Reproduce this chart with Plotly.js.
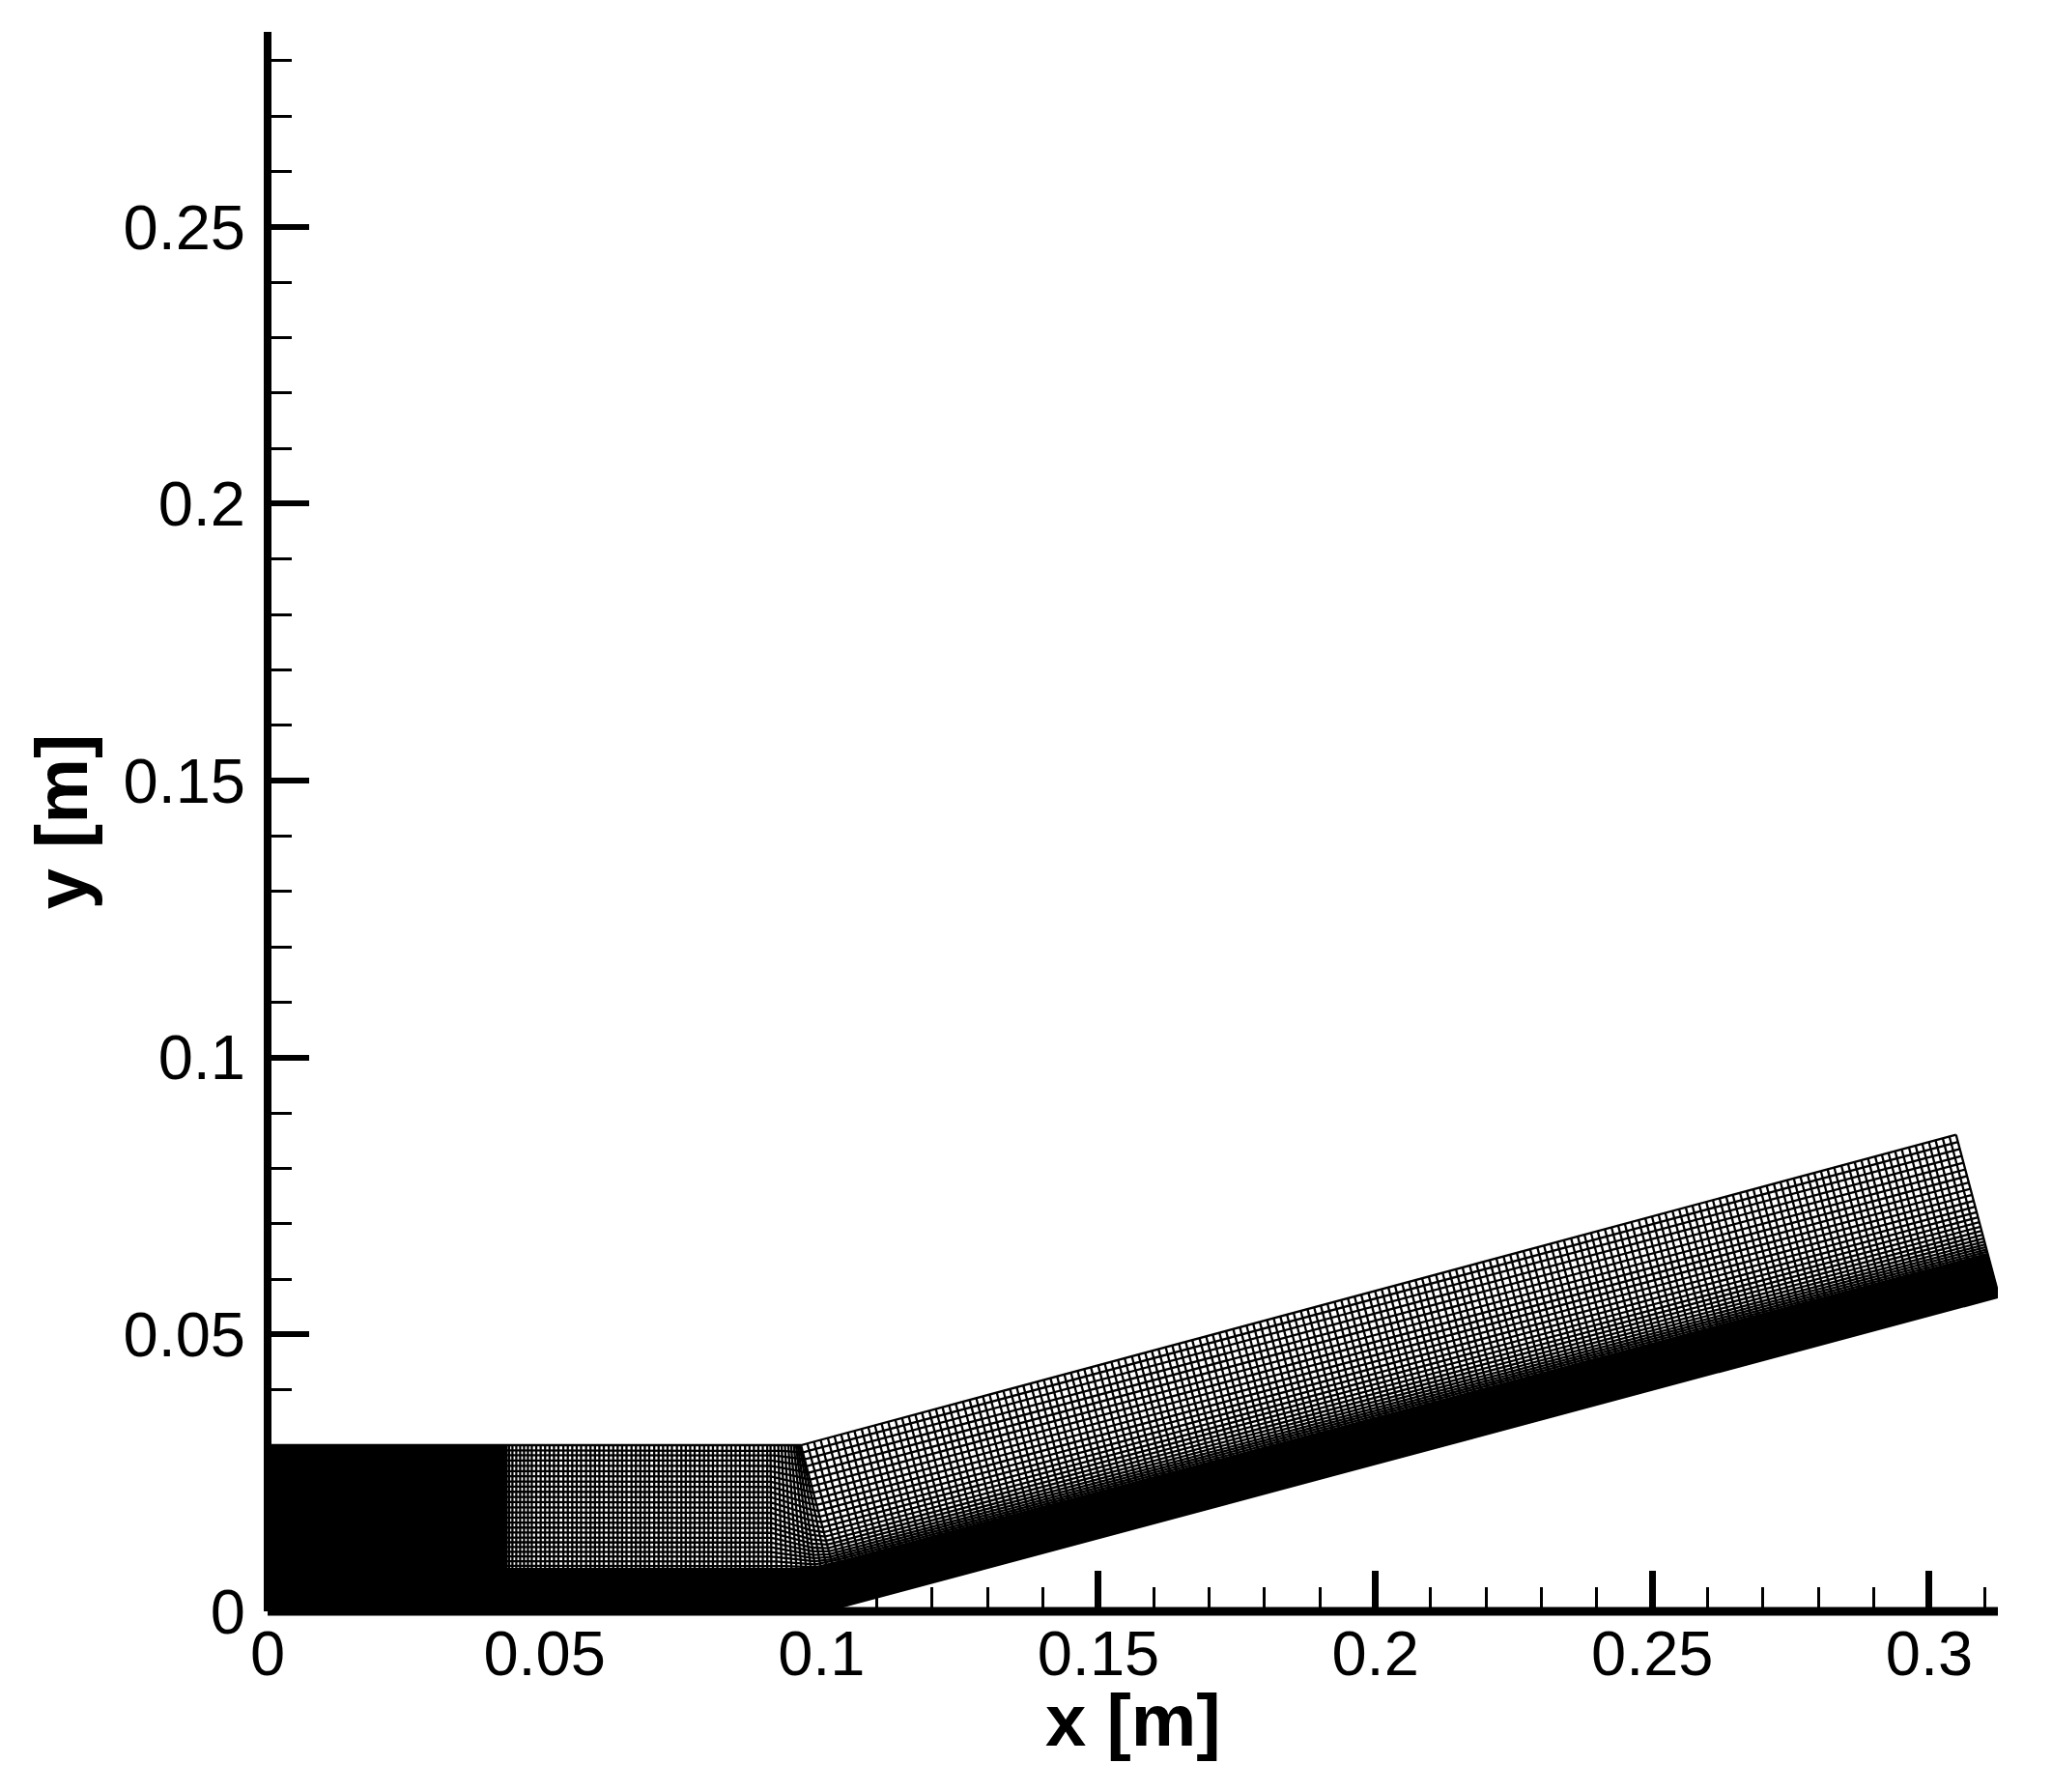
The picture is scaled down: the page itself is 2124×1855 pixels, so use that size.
<!DOCTYPE html>
<html><head><meta charset="utf-8">
<script src="https://cdn.plot.ly/plotly-3.0.1.min.js"></script>
<style>html,body{margin:0;padding:0;background:#fff}</style></head>
<body><div id="chart" style="width:2124px;height:1855px"></div>
<script>
// Streamwise mesh stations (metres)
const blockStations = [0.0005,0.0010,0.0015,0.0020,0.0025,0.0030,0.0035,0.0040,0.0045,0.0050,0.0055,0.0060,0.0065,0.0070,0.0075,0.0080,0.0085,0.0090,0.0095,0.0100,0.0105,0.0110,0.0115,0.0120,0.0125,0.0130,0.0135,0.0140,0.0145,0.0150,0.0155,0.0160,0.0165,0.0170,0.0175,0.0180,0.0185,0.0190,0.0195,0.0200,0.0205,0.0210,0.0215,0.0220,0.0225,0.0230,0.0235,0.0240,0.0245,0.0250,0.0255,0.0260,0.0265,0.0270,0.0275,0.0280,0.0285,0.0290,0.0295,0.0300,0.0305,0.0310,0.0315,0.0320,0.0325,0.0330,0.0335,0.0340,0.0345,0.0350,0.0355,0.0360,0.0365,0.0370,0.0375,0.0380,0.0385,0.0390,0.0395,0.0400,0.0405,0.0410,0.0415,0.0420,0.0425,0.0430];
const inletStations = [0.0436,0.0442,0.0449,0.0456,0.0463,0.0470,0.0477,0.0485,0.0493,0.0501,0.0509,0.0517,0.0525,0.0534,0.0542,0.0550,0.0558,0.0566,0.0575,0.0583,0.0591,0.0599,0.0607,0.0616,0.0624,0.0632,0.0640,0.0648,0.0657,0.0665,0.0673,0.0681,0.0689,0.0698,0.0706,0.0714,0.0722,0.0730,0.0739,0.0747,0.0755,0.0763,0.0771,0.0780,0.0788,0.0796,0.0804,0.0812,0.0821,0.0829,0.0837,0.0845,0.0853,0.0862,0.0870,0.0878,0.0886,0.0894,0.0902];
const fanBottomX = [0.0910,0.0920,0.0930,0.0940,0.0950,0.0960,0.0970,0.0980,0.0990,0.1000,0.1012,0.1025,0.1039];
const fanTopX    = [0.0908,0.0915,0.0922,0.0928,0.0934,0.0940,0.0945,0.0950,0.0954,0.0957,0.0960,0.0962,0.0963];
const rampStations = [0.1052,0.1064,0.1076,0.1089,0.1101,0.1113,0.1125,0.1137,0.1150,0.1162,0.1174,0.1186,0.1198,0.1211,0.1223,0.1235,0.1247,0.1259,0.1272,0.1284,0.1296,0.1308,0.1320,0.1333,0.1345,0.1357,0.1369,0.1381,0.1394,0.1406,0.1418,0.1430,0.1442,0.1455,0.1467,0.1479,0.1491,0.1503,0.1516,0.1528,0.1540,0.1552,0.1564,0.1577,0.1589,0.1601,0.1613,0.1625,0.1638,0.1650,0.1662,0.1674,0.1686,0.1699,0.1711,0.1723,0.1735,0.1747,0.1760,0.1772,0.1784,0.1796,0.1808,0.1821,0.1833,0.1845,0.1857,0.1869,0.1882,0.1894,0.1906,0.1918,0.1930,0.1943,0.1955,0.1967,0.1979,0.1991,0.2004,0.2016,0.2028,0.2040,0.2052,0.2065,0.2077,0.2089,0.2101,0.2113,0.2126,0.2138,0.2150,0.2162,0.2174,0.2187,0.2199,0.2211,0.2223,0.2235,0.2248,0.2260,0.2272,0.2284,0.2296,0.2309,0.2321,0.2333,0.2345,0.2357,0.2370,0.2382,0.2394,0.2406,0.2418,0.2431,0.2443,0.2455,0.2467,0.2479,0.2492,0.2504,0.2516,0.2528,0.2540,0.2553,0.2565,0.2577,0.2589,0.2601,0.2614,0.2626,0.2638,0.2650,0.2662,0.2675,0.2687,0.2699,0.2711,0.2723,0.2736,0.2748,0.2760,0.2772,0.2784,0.2797,0.2809,0.2821,0.2833,0.2845,0.2858,0.2870,0.2882,0.2894,0.2906,0.2919,0.2931,0.2943,0.2955,0.2967,0.2980,0.2992,0.3004,0.3016,0.3028,0.3041,0.3053,0.3065,0.3077,0.3089,0.3102,0.3114,0.3126];
// Wall-normal levels as fractions of the channel height
const etaWallLayer = [0,0.012,0.025,0.037,0.05,0.062,0.075,0.087,0.1,0.112,0.125,0.137,0.15,0.162,0.175,0.187,0.2,0.212,0.225,0.237,0.25];
const etaInlet = [0.276,0.303,0.331,0.359,0.388,0.417,0.446,0.476,0.506,0.536,0.566,0.597,0.628,0.659,0.69,0.721,0.752,0.783,0.814,0.845,0.877,0.909,0.941,0.97,1];
const etaRamp  = [0.262,0.275,0.289,0.304,0.32,0.338,0.358,0.38,0.404,0.43,0.458,0.488,0.52,0.554,0.59,0.627,0.665,0.704,0.744,0.785,0.827,0.869,0.912,0.955,1];
// Geometry (metres)
const channelHeight = 0.03;
const wallKinkX = 0.1, wallSlope = 0.2678;
const topKinkX = 0.0963, topSlope = 0.2688;
const rampTopShift = 0.00776;
const fanStart = 0.0905, fanEnd = 0.1039;
const xMajorTicks = 0.05, minorStep = 0.01;
const xRange = [0, 0.3124], yRange = [0, 0.2852];

const lowerY = x => x > wallKinkX ? (x - wallKinkX) * wallSlope : 0;
const upperY = x => x > topKinkX ? channelHeight + (x - topKinkX) * topSlope : channelHeight;
const stations = [{b:0,t:0}]
  .concat(blockStations.map(x => ({b:x,t:x})))
  .concat(inletStations.map(x => ({b:x,t:x})))
  .concat(fanBottomX.map((x,i) => ({b:x,t:fanTopX[i]})))
  .concat(rampStations.map(x => ({b:x,t:x - rampTopShift})));

function node(st, e0, e1) {
  const w = Math.min(1, Math.max(0, (st.b - fanStart) / (fanEnd - fanStart)));
  const e = e0 * (1 - w) + e1 * w;
  const yb = lowerY(st.b), yt = upperY(st.t);
  return [st.b + (st.t - st.b) * e, yb + (yt - yb) * e];
}
function rows(list0, list1) {
  const X = [], Y = [];
  list0.forEach((e0, k) => {
    stations.forEach(st => { const p = node(st, e0, list1[k]); X.push(p[0]); Y.push(p[1]); });
    X.push(null); Y.push(null);
  });
  return {X, Y};
}
function cols(sts, l0, l1) {
  const X = [], Y = [];
  sts.forEach(st => {
    l0.forEach((e0, k) => { const p = node(st, e0, l1[k]); X.push(p[0]); Y.push(p[1]); });
    X.push(null); Y.push(null);
  });
  return {X, Y};
}
const allE0 = [0].concat(etaWallLayer.slice(-1), etaInlet);
const allE1 = [0].concat(etaWallLayer.slice(-1), etaRamp);
const blockSt = stations.slice(0, blockStations.length + 1);
const openSt = stations.slice(blockStations.length + 1);

function tr(d, w) {
  return {type:'scatter', mode:'lines', x:d.X, y:d.Y, cliponaxis:false, hoverinfo:'skip',
    connectgaps:false, line:{color:'#000', width:w}, showlegend:false};
}
const data = [
  tr(cols(blockSt, allE0, allE1), 4),
  tr(cols(openSt, allE0, allE1), 2.3),
  tr(rows(etaWallLayer, etaWallLayer), 4),
  tr(rows(etaInlet, etaRamp), 2.3)
];
const tickFont = {family:'"Liberation Sans", Arial, sans-serif', size:65, color:'#000'};
const titleFont = {family:'"Liberation Sans", Arial, sans-serif', size:76, color:'#000', weight:700};
const layout = {
  width:2124, height:1855, paper_bgcolor:'#fff', plot_bgcolor:'#fff', showlegend:false,
  margin:{l:277, r:56, t:33, b:187, pad:0},
  xaxis:{range:xRange, tick0:0, dtick:xMajorTicks, ticks:'inside', ticklen:42, tickwidth:7, tickcolor:'#000',
    minor:{dtick:minorStep, tick0:0, ticks:'inside', ticklen:25, tickwidth:2.5, tickcolor:'#000', showgrid:false},
    showgrid:false, zeroline:false, showline:false, tickfont:tickFont, ticklabelstandoff:0},
  yaxis:{range:yRange, tick0:0, dtick:xMajorTicks, ticks:'inside', ticklen:43, tickwidth:6, tickcolor:'#000',
    minor:{dtick:minorStep, tick0:0, ticks:'inside', ticklen:25, tickwidth:2.5, tickcolor:'#000', showgrid:false},
    showgrid:false, zeroline:false, showline:false, tickfont:tickFont, ticklabelstandoff:22,
    title:{text:'y [m]', font:titleFont, standoff:11}},
  annotations:[{text:'x [m]', xref:'paper', yref:'paper', x:0.5, y:-0.069, xanchor:'center', yanchor:'middle',
    showarrow:false, font:titleFont}],
  shapes:[
    {type:'line', xref:'paper', yref:'paper', x0:0, x1:0, y0:0, y1:1, line:{color:'#000', width:8}, layer:'above'},
    {type:'line', xref:'paper', yref:'paper', x0:0, x1:1, y0:0, y1:0, line:{color:'#000', width:9}, layer:'above'}
  ]
};
Plotly.newPlot('chart', data, layout, {displayModeBar:false, responsive:false});
</script></body></html>
